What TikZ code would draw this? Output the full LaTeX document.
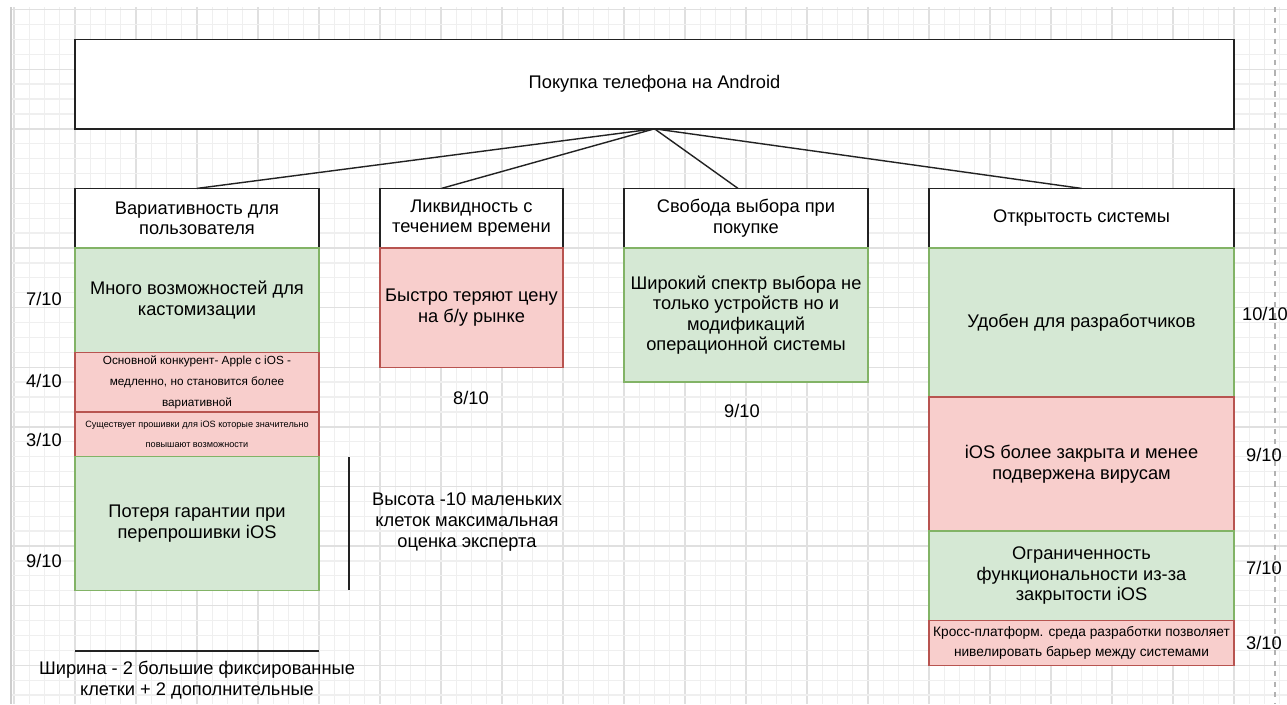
\documentclass[tikz,border=0pt]{standalone}
\usepackage{fontspec}
\setmainfont{Liberation Sans}
\usetikzlibrary{calc}

\definecolor{goodfill}{HTML}{D5E8D4}
\definecolor{goodline}{HTML}{82B366}
\definecolor{badfill}{HTML}{F8CECC}
\definecolor{badline}{HTML}{B85450}
\definecolor{gridminor}{HTML}{EFEFEF}
\definecolor{gridmajor}{HTML}{E0E0E0}
\definecolor{edge}{HTML}{222222}

\begin{document}
\begin{tikzpicture}[x=0.02cm,y=-0.02cm,
    boxdim/.style 2 args={minimum width=#1*0.02cm,minimum height=#2*0.02cm},
    box/.style={rectangle,draw=edge,line width=0.8pt,fill=white,inner sep=0pt,outer sep=0pt,
        align=center,font=\fontsize{10.4}{11.7}\selectfont},
    goodbox/.style={box,draw=goodline,fill=goodfill},
    badbox/.style={box,draw=badline,fill=badfill},
    score/.style={font=\fontsize{10.4}{11.7}\selectfont},
    note/.style={align=center,font=\fontsize{10.4}{11.7}\selectfont},
    link/.style={draw=edge,line width=0.8pt}
]
    \useasboundingbox (0,0) rectangle (1287,704);
    % grid of the sheet
    \begin{scope}
        \clip (11,7) rectangle (1287,704);
        \foreach \i in {-4,...,80} {
            \pgfmathsetmacro{\gx}{75+15.25*\i}
            \pgfmathtruncatemacro{\gm}{mod(\i+100,4)}
            \ifnum\gm=0
                \draw[gridmajor,line width=0.8pt] (\gx,7) -- (\gx,704);
            \else
                \draw[gridminor,line width=0.7pt] (\gx,7) -- (\gx,704);
            \fi
        }
        \foreach \j in {-16,...,31} {
            \pgfmathsetmacro{\gy}{248+14.9*\j}
            \pgfmathtruncatemacro{\gm}{mod(\j+100,4)}
            \ifnum\gm=0
                \draw[gridmajor,line width=0.8pt] (11,\gy) -- (1287,\gy);
            \else
                \draw[gridminor,line width=0.7pt] (11,\gy) -- (1287,\gy);
            \fi
        }
    \end{scope}
    \draw[gridmajor!80!gray,line width=1pt] (11,7) -- (11,704);
    \draw[gray!60,dashed,line width=0.6pt] (1275,7) -- (1275,704);

    % goal and criteria
    \node[box,boxdim={1159}{89.4}] (goal) at (654.5,84.1) {Покупка телефона на Android};
    \node[box,boxdim={244}{59.6}] (var) at (197,218.2) {Вариативность для\\пользователя};
    \node[box,boxdim={183}{59.6}] (liq) at (471.5,218.2) {Ликвидность с\\течением времени};
    \node[box,boxdim={244}{59.6}] (free) at (746,218.2) {Свобода выбора при\\покупке};
    \node[box,boxdim={305}{59.6}] (open) at (1081.5,218.2) {Открытость системы};

    \draw[link] (goal.south) -- (var.north);
    \draw[link] (goal.south) -- ([xshift=-0.6cm]liq.north);
    \draw[link] (goal.south) -- ([xshift=-0.16cm]free.north);
    \draw[link] (goal.south) -- (open.north);

    % first column
    \node[goodbox,boxdim={244}{104.3},anchor=north] (var1) at (var.south) {Много возможностей для\\кастомизации};
    \node[badbox,boxdim={244}{59.6},anchor=north,font=\fontsize{6.7}{11.9}\selectfont] (var2) at (var1.south)
        {Основной конкурент- Apple с iOS -\\медленно, но становится более\\вариативной};
    \node[badbox,boxdim={244}{44.7},anchor=north,font=\fontsize{5.2}{11.3}\selectfont] (var3) at (var2.south)
        {Существует прошивки для iOS которые значительно\\повышают возможности};
    \node[goodbox,boxdim={244}{134.1},anchor=north] (var4) at (var3.south) {Потеря гарантии при\\перепрошивки iOS};
    \node[score] (s11) at (44,299) {7/10};
    \node[score] (s12) at (44,381) {4/10};
    \node[score] (s13) at (44,440) {3/10};
    \node[score] (s14) at (44,561) {9/10};

    % second and third columns
    \node[badbox,boxdim={183}{119.2},anchor=north] (liq1) at (liq.south) {Быстро теряют цену\\на б/у рынке};
    \node[score] (s21) at (471,398) {8/10};
    \node[goodbox,boxdim={244}{134.1},anchor=north] (free1) at (free.south)
        {Широкий спектр выбора не\\только устройств но и\\модификаций\\операционной системы};
    \node[score] (s31) at (742,411) {9/10};

    % fourth column
    \node[goodbox,boxdim={305}{149},anchor=north] (open1) at (open.south) {Удобен для разработчиков};
    \node[badbox,boxdim={305}{134.1},anchor=north] (open2) at (open1.south) {iOS более закрыта и менее\\подвержена вирусам};
    \node[goodbox,boxdim={305}{89.4},anchor=north] (open3) at (open2.south)
        {Ограниченность\\функциональности из-за\\закрытости iOS};
    \node[badbox,boxdim={305}{44.7},anchor=north,font=\fontsize{7.8}{11.3}\selectfont] (open4) at (open3.south)
        {Кросс-платформ. среда разработки позволяет\\нивелировать барьер между системами};
    \node[score] (s41) at (1265,314) {10/10};
    \node[score] (s42) at (1264,455) {9/10};
    \node[score] (s43) at (1264,568) {7/10};
    \node[score] (s44) at (1264,643) {3/10};

    % scale notes
    \coordinate (htop) at (349,457);
    \coordinate (hbot) at (349,590);
    \draw[link] (htop) -- (hbot);
    \node[note] (hnote) at (467,522) {Высота -10 маленьких\\клеток максимальная\\оценка эксперта};
    \coordinate (wl) at (75,651);
    \coordinate (wr) at (319,651);
    \draw[link] (wl) -- (wr);
    \node[note] (wnote) at (197,680) {Ширина - 2 большие фиксированные\\клетки + 2 дополнительные};
\end{tikzpicture}
\end{document}
